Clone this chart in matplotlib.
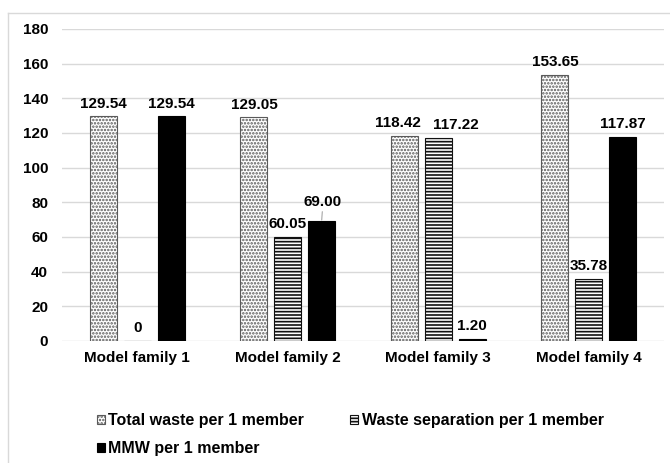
import numpy as np
import matplotlib
matplotlib.use("Agg")
from matplotlib import pyplot as plt
from matplotlib.lines import Line2D

plt.rcParams['font.family'] = ['Liberation Sans', 'DejaVu Sans']
plt.rcParams['font.weight'] = 'bold'
plt.rcParams['hatch.linewidth'] = 1.2

families = ["Model family 1", "Model family 2", "Model family 3", "Model family 4"]
total_waste = [129.54, 129.05, 118.42, 153.65]
separation = [0, 60.05, 117.22, 35.78]
mmw = [129.54, 69.00, 1.20, 117.87]
y_ticks = [0, 20, 40, 60, 80, 100, 120, 140, 160, 180]

fig = plt.figure(figsize=(6.7, 4.63), dpi=100)
ax = fig.add_axes([62 / 670, 1 - 341 / 463, 602 / 670, 312 / 463])

x = np.arange(len(families))
w = 0.18
step = 0.225

b_total = ax.bar(x - step, total_waste, w, color="white", edgecolor="#5a5a5a",
                 hatch=".....", linewidth=0.8, zorder=3)
b_sep = ax.bar(x, separation, w, color="white", edgecolor="#111111",
               hatch="-----", linewidth=0.8, zorder=3)
b_mmw = ax.bar(x + step, mmw, w, color="black", edgecolor="black",
               linewidth=0.8, zorder=3)

ax.set_ylim(0, 180)
ax.set_xlim(-0.5, len(families) - 0.5)
ax.set_yticks(y_ticks)
ax.set_xticks(x)
ax.set_xticklabels(families)
ax.tick_params(axis="both", length=0, labelsize=11)
ax.tick_params(axis="y", pad=10)
ax.tick_params(axis="x", pad=7)
ax.grid(axis="y", color="#d9d9d9", linewidth=1, zorder=0)
for s in ax.spines.values():
    s.set_visible(False)


def label(xpos, val, dx=0, dy=4):
    ax.annotate(f"{val:.2f}" if val != 0 else "0", (xpos, val), xytext=(dx, dy),
                textcoords="offset points", ha="center", va="bottom",
                fontsize=11, fontweight="bold", zorder=4)


for i in range(len(families)):
    # family 3 labels sit close together, nudge them apart
    label(x[i] - step, total_waste[i], dx=-4.5 if i == 2 else 0)
    label(x[i], separation[i], dx=13 if i == 2 else 0)
    if i == 1:
        # pushed up with a small leader line so it clears the neighbour label
        ax.annotate(f"{mmw[i]:.2f}", (x[i] + step, mmw[i]), xytext=(1, 9),
                    textcoords="offset points", ha="center", va="bottom",
                    fontsize=11, fontweight="bold",
                    arrowprops=dict(arrowstyle="-", color="#a6a6a6", lw=0.8,
                                    shrinkA=0, shrinkB=1))
    else:
        label(x[i] + step, mmw[i])

# chart area outline
fig.add_artist(Line2D([8 / 670, 8 / 670], [0, 1 - 13 / 463], color="#d9d9d9", lw=1))
fig.add_artist(Line2D([8 / 670, 1], [1 - 13 / 463, 1 - 13 / 463], color="#d9d9d9", lw=1))

leg = fig.legend([b_total, b_mmw, b_sep],
                 ["Total waste per 1 member", "MMW per 1 member", "Waste separation per 1 member"],
                 ncol=2, loc="upper left", bbox_to_anchor=(97 / 670, 1 - 413 / 463),
                 frameon=False, borderpad=0, borderaxespad=0,
                 handlelength=0.5, handleheight=0.5, handletextpad=0.2,
                 columnspacing=2.9, labelspacing=0.82, prop={"size": 11.5, "weight": "bold"})

fig.savefig("out.png", dpi=100)
